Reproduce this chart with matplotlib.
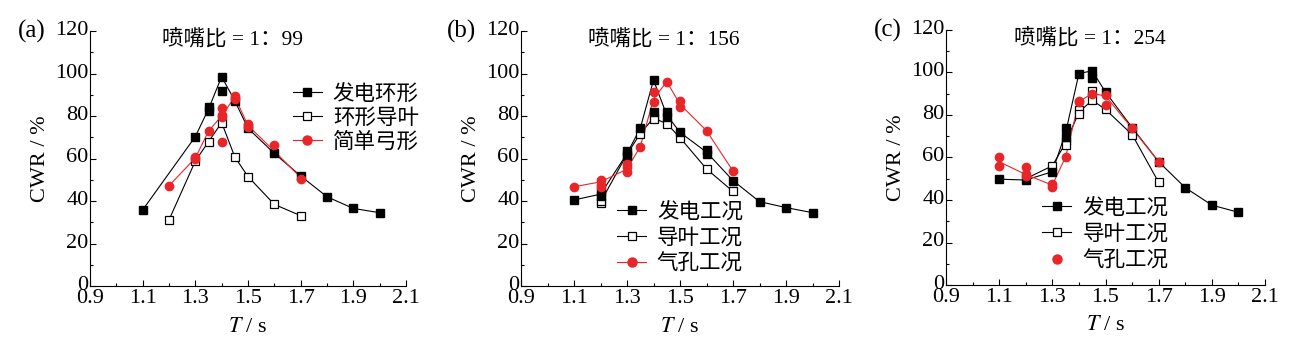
import matplotlib
matplotlib.use("Agg")
import matplotlib.pyplot as plt
import matplotlib.transforms as mtransforms
from matplotlib.lines import Line2D
from matplotlib.ticker import MultipleLocator

plt.rcParams["font.family"] = ["Liberation Serif", "Noto Sans CJK SC"]
plt.rcParams["mathtext.fontset"] = "stix"

RED = "#e8262a"

# ---- (a) nozzle ratio 1:99 ----
a_gen_pts_x = [1.1, 1.3, 1.35, 1.35, 1.4, 1.4, 1.45, 1.5, 1.6, 1.7, 1.8, 1.9, 2.0]
a_gen_pts_y = [35.8, 70.3, 84.1, 82.5, 98.5, 91.8, 87.1, 74.2, 62.4, 51.8, 42.0, 36.5, 34.5]
a_gen_line_x = [1.1, 1.3, 1.35, 1.4, 1.45, 1.5, 1.6, 1.7, 1.8, 1.9, 2.0]
a_gen_line_y = [35.8, 70.3, 83.3, 98.5, 87.1, 74.2, 62.4, 51.8, 42.0, 36.5, 34.5]

a_guide_pts_x = [1.2, 1.3, 1.35, 1.4, 1.45, 1.5, 1.6, 1.7]
a_guide_pts_y = [31.1, 58.8, 67.9, 76.9, 60.7, 51.5, 38.4, 33.1]

a_bow_pts_x = [1.2, 1.3, 1.3, 1.35, 1.4, 1.4, 1.4, 1.4, 1.45, 1.45, 1.5, 1.5, 1.6, 1.7]
a_bow_pts_y = [47.2, 60.5, 59.8, 72.9, 83.6, 80.5, 79.7, 67.9, 89.4, 88.0, 76.1, 75.0, 66.4, 50.2]
a_bow_line_x = [1.2, 1.3, 1.35, 1.4, 1.45, 1.5, 1.6, 1.7]
a_bow_line_y = [47.2, 60.2, 72.9, 80.0, 89.0, 75.5, 63.5, 51.0]

# ---- (b) nozzle ratio 1:156 ----
b_gen_pts_x = [1.1, 1.2, 1.2, 1.3, 1.3, 1.35, 1.4, 1.4, 1.45, 1.45, 1.5, 1.6, 1.6, 1.7, 1.8, 1.9, 2.0]
b_gen_pts_y = [40.5, 44.1, 42.4, 63.5, 61.2, 74.2, 96.9, 82.0, 81.9, 79.7, 72.3, 64.0, 62.1, 49.6, 39.7, 36.9, 34.5]
b_gen_line_x = [1.1, 1.2, 1.3, 1.35, 1.4, 1.45, 1.5, 1.6, 1.7, 1.8, 1.9, 2.0]
b_gen_line_y = [40.5, 43.2, 62.3, 74.2, 96.9, 80.5, 72.3, 63.0, 49.6, 39.7, 36.9, 34.5]

b_guide_pts_x = [1.2, 1.2, 1.3, 1.35, 1.4, 1.4, 1.45, 1.5, 1.6, 1.7]
b_guide_pts_y = [38.9, 40.0, 62.0, 71.7, 79.7, 78.4, 76.4, 69.8, 55.1, 44.5]
b_guide_line_x = [1.2, 1.3, 1.35, 1.4, 1.45, 1.5, 1.6, 1.7]
b_guide_line_y = [39.4, 62.0, 71.7, 79.0, 76.4, 69.8, 55.1, 44.5]

b_hole_pts_x = [1.1, 1.2, 1.2, 1.2, 1.3, 1.3, 1.3, 1.35, 1.4, 1.4, 1.45, 1.5, 1.5, 1.6, 1.7]
b_hole_pts_y = [46.7, 49.9, 47.5, 46.7, 57.4, 56.2, 53.8, 65.6, 91.3, 86.4, 96.2, 86.9, 84.4, 73.1, 54.1]
b_hole_line_x = [1.1, 1.2, 1.3, 1.35, 1.4, 1.45, 1.5, 1.6, 1.7]
b_hole_line_y = [46.7, 49.0, 55.0, 65.6, 88.0, 96.2, 85.5, 73.1, 54.1]

# ---- (c) nozzle ratio 1:254 ----
c_gen_pts_x = [1.1, 1.2, 1.3, 1.35, 1.35, 1.4, 1.45, 1.45, 1.5, 1.6, 1.7, 1.8, 1.9, 2.0]
c_gen_pts_y = [49.8, 49.4, 53.3, 73.7, 69.7, 99.5, 100.8, 97.5, 90.8, 74.1, 58.0, 45.8, 37.6, 34.2]
c_gen_line_x = [1.1, 1.2, 1.3, 1.35, 1.4, 1.45, 1.5, 1.6, 1.7, 1.8, 1.9, 2.0]
c_gen_line_y = [49.8, 49.4, 53.3, 71.7, 99.5, 100.8, 90.8, 74.1, 58.0, 45.8, 37.6, 34.2]

c_guide_pts_x = [1.3, 1.35, 1.35, 1.4, 1.4, 1.45, 1.45, 1.5, 1.6, 1.7]
c_guide_pts_y = [56.1, 67.7, 66.1, 82.3, 80.3, 91.4, 87.0, 82.6, 70.8, 48.3]
c_guide_line_x = [1.2, 1.3, 1.35, 1.4, 1.45, 1.5, 1.6, 1.7]
c_guide_line_y = [50.0, 56.1, 66.9, 81.3, 87.0, 82.6, 70.8, 48.3]

c_hole_pts_x = [1.1, 1.1, 1.2, 1.2, 1.2, 1.3, 1.3, 1.35, 1.4, 1.4, 1.45, 1.5, 1.5, 1.6, 1.7]
c_hole_pts_y = [60.3, 56.1, 55.6, 52.2, 51.3, 47.3, 46.2, 60.3, 86.7, 85.9, 90.1, 89.3, 84.6, 73.7, 58.0]
c_hole_line_x = [1.1, 1.2, 1.3, 1.35, 1.4, 1.45, 1.5, 1.6, 1.7]
c_hole_line_y = [58.0, 52.0, 47.0, 60.3, 86.3, 90.1, 89.0, 73.7, 58.0]

panel_labels = ["(a)", "(b)", "(c)"]
titles = ["喷嘴比 = 1：99", "喷嘴比 = 1：156", "喷嘴比 = 1：254"]
legend_a = ["发电环形", "环形导叶", "简单弓形"]
legend_bc = ["发电工况", "导叶工况", "气孔工况"]

STYLE_GEN = dict(color="black", marker="s", mfc="black", mec="black", ms=5.5)
STYLE_GUIDE = dict(color="black", marker="s", mfc="white", mec="black", ms=5.5, mew=0.9)
STYLE_RED = dict(color=RED, marker="o", mfc=RED, mec=RED, ms=6)

LEG_PROP = {"family": ["Noto Sans CJK SC"], "size": 15.5}


def draw_series(ax, line_x, line_y, pts_x, pts_y, style):
    ax.plot(line_x, line_y, color=style["color"], lw=0.8, zorder=2)
    ax.plot(pts_x, pts_y, ls="none", marker=style["marker"], ms=style["ms"],
            mfc=style["mfc"], mec=style["mec"], mew=style.get("mew", 1.0), zorder=3)


def legend_handle(style, with_line=True):
    return Line2D([], [], color=style["color"], lw=0.8 if with_line else 0,
                  marker=style["marker"], ms=style["ms"] + 0.5, mfc=style["mfc"],
                  mec=style["mec"], mew=style.get("mew", 1.0))


def setup_axes(fig, ax, label, title):
    ax.set_xlim(0.9, 2.1)
    ax.set_ylim(0, 120)
    ax.set_xticks([0.9, 1.1, 1.3, 1.5, 1.7, 1.9, 2.1])
    ax.set_yticks(range(0, 121, 20))
    ax.xaxis.set_minor_locator(MultipleLocator(0.1))
    ax.yaxis.set_minor_locator(MultipleLocator(10))
    ax.tick_params(which="major", direction="in", length=4, width=0.8, labelsize=16, pad=1)
    ax.tick_params(axis="x", which="major", pad=2)
    ax.tick_params(which="minor", direction="in", length=2.5, width=0.8)
    # y tick labels sit a little high, as in the original
    shift = mtransforms.ScaledTranslation(0, 3 / 100, fig.dpi_scale_trans)
    for lbl in ax.get_yticklabels():
        lbl.set_transform(lbl.get_transform() + shift)
    for side in ["top", "right"]:
        ax.spines[side].set_visible(False)
    for side in ["left", "bottom"]:
        ax.spines[side].set_linewidth(0.8)
    ax.set_xlabel("$T$ / s", fontsize=16, labelpad=7)
    ax.set_ylabel("CWR / %", fontsize=16, labelpad=4)
    ax.text(-0.14, 1.0, label, transform=ax.transAxes, fontsize=18, ha="right", va="center")
    ax.text(1.44, 115.5, title, fontsize=15.5, ha="center", va="center")


W, H = 1301, 346
fig = plt.figure(figsize=(W / 100, H / 100), dpi=100)
ax_a = fig.add_axes([90 / W, 1 - 286 / H, 316 / W, 255 / H])
ax_b = fig.add_axes([521 / W, 1 - 286 / H, 318 / W, 255 / H])
ax_c = fig.add_axes([946 / W, 1 - 285 / H, 319 / W, 255 / H])

for ax, lab, tt in zip([ax_a, ax_b, ax_c], panel_labels, titles):
    setup_axes(fig, ax, lab, tt)

# (a)
draw_series(ax_a, a_guide_pts_x, a_guide_pts_y, a_guide_pts_x, a_guide_pts_y, STYLE_GUIDE)
draw_series(ax_a, a_gen_line_x, a_gen_line_y, a_gen_pts_x, a_gen_pts_y, STYLE_GEN)
draw_series(ax_a, a_bow_line_x, a_bow_line_y, a_bow_pts_x, a_bow_pts_y, STYLE_RED)
ax_a.legend([legend_handle(STYLE_GEN), legend_handle(STYLE_GUIDE), legend_handle(STYLE_RED)],
            legend_a, loc="upper left", bbox_to_anchor=(0.615, 0.83), frameon=False,
            handlelength=1.35, handletextpad=0.5, labelspacing=0.08,
            borderaxespad=0, prop=LEG_PROP)

# (b)
draw_series(ax_b, b_guide_line_x, b_guide_line_y, b_guide_pts_x, b_guide_pts_y, STYLE_GUIDE)
draw_series(ax_b, b_gen_line_x, b_gen_line_y, b_gen_pts_x, b_gen_pts_y, STYLE_GEN)
draw_series(ax_b, b_hole_line_x, b_hole_line_y, b_hole_pts_x, b_hole_pts_y, STYLE_RED)
ax_b.legend([legend_handle(STYLE_GEN), legend_handle(STYLE_GUIDE), legend_handle(STYLE_RED)],
            legend_bc, loc="upper left", bbox_to_anchor=(0.275, 0.37), frameon=False,
            handlelength=1.35, handletextpad=0.5, labelspacing=0.2,
            borderaxespad=0, prop=LEG_PROP)

# (c)
draw_series(ax_c, c_guide_line_x, c_guide_line_y, c_guide_pts_x, c_guide_pts_y, STYLE_GUIDE)
draw_series(ax_c, c_gen_line_x, c_gen_line_y, c_gen_pts_x, c_gen_pts_y, STYLE_GEN)
draw_series(ax_c, c_hole_line_x, c_hole_line_y, c_hole_pts_x, c_hole_pts_y, STYLE_RED)
ax_c.legend([legend_handle(STYLE_GEN), legend_handle(STYLE_GUIDE), legend_handle(STYLE_RED, False)],
            legend_bc, loc="upper left", bbox_to_anchor=(0.275, 0.38), frameon=False,
            handlelength=1.35, handletextpad=0.5, labelspacing=0.2,
            borderaxespad=0, prop=LEG_PROP)

fig.savefig("out.png", dpi=100)
